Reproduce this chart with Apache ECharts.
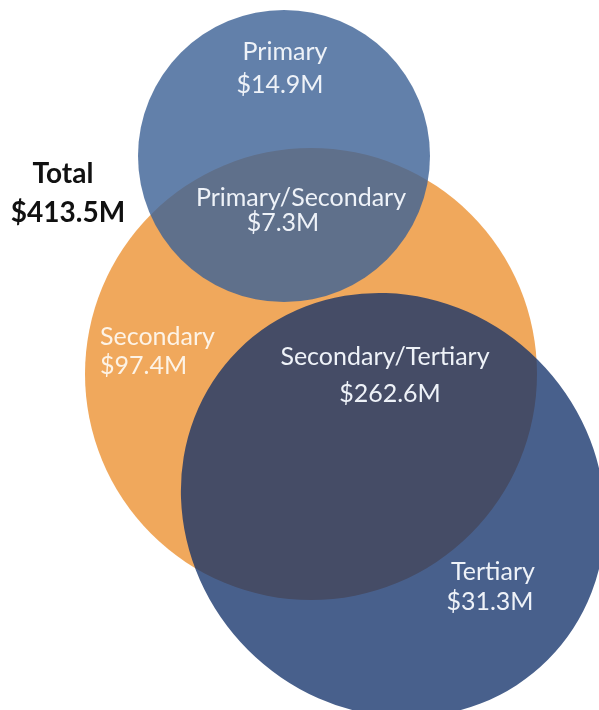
<!DOCTYPE html>
<html>
<head>
<meta charset="utf-8">
<script src="https://cdn.jsdelivr.net/npm/echarts@6/dist/echarts.min.js"></script>
<style>
  html, body { margin: 0; padding: 0; background: #ffffff; }
  #chart { width: 599px; height: 710px; }
</style>
</head>
<body>
<div id="chart"></div>
<script>
// Funding by program level (Venn regions), $ millions
const regionNames = ['Primary', 'Primary/Secondary', 'Secondary', 'Secondary/Tertiary', 'Tertiary'];
const regionValues = [14.9, 7.3, 97.4, 262.6, 31.3];
const totalName = 'Total';
const totalValue = 413.5;

// Set shapes, drawn back to front, in plot units
const setNames = ['Secondary', 'Primary', 'Tertiary'];
const setShapes = [
  { cx: 311, cy: 374, rx: 226, ry: 226, tilt: 0 },
  { cx: 284, cy: 156, rx: 146, ry: 146, tilt: 0 },
  { cx: 393, cy: 505, rx: 219, ry: 205, tilt: -Math.PI / 4 }
];
const setColors = ['rgb(240,168,92)', 'rgba(61,98,150,0.81)', 'rgba(17,48,106,0.77)'];

// Label anchors per region: [line 1, line 2] as {x, y, align}
const labelAnchors = [
  [{ x: 285, y: 52, align: 'center' }, { x: 280, y: 85, align: 'center' }],
  [{ x: 301, y: 198, align: 'center' }, { x: 283, y: 223, align: 'center' }],
  [{ x: 100, y: 337, align: 'left' }, { x: 100, y: 366, align: 'left' }],
  [{ x: 385, y: 357, align: 'center' }, { x: 390, y: 394, align: 'center' }],
  [{ x: 493, y: 572, align: 'center' }, { x: 490, y: 602, align: 'center' }]
];
const totalAnchors = [{ x: 63, y: 174 }, { x: 68, y: 213 }];

const money = v => '$' + v.toFixed(1) + 'M';
const LABEL_FONT = '25px Lato, "Open Sans", sans-serif';
const TOTAL_FONT = 'bold 28px Lato, "Open Sans", sans-serif';

const chart = echarts.init(document.getElementById('chart'), null, { renderer: 'canvas' });

chart.setOption({
  animation: false,
  backgroundColor: '#ffffff',
  grid: { left: 0, right: 0, top: 0, bottom: 0 },
  xAxis: { type: 'value', min: 0, max: 599, show: false },
  yAxis: { type: 'value', min: 0, max: 710, inverse: true, show: false },
  series: [
    {
      name: 'sets',
      type: 'custom',
      coordinateSystem: 'cartesian2d',
      silent: true,
      data: setNames.map((n, i) => [setShapes[i].cx, setShapes[i].cy, i]),
      renderItem: function (params, api) {
        const i = api.value(2);
        const s = setShapes[i];
        const c = api.coord([s.cx, s.cy]);
        const sz = api.size([s.rx, s.ry]);
        return {
          type: 'circle',
          x: c[0],
          y: c[1],
          rotation: s.tilt,
          scaleX: sz[0] / sz[1],
          scaleY: 1,
          shape: { cx: 0, cy: 0, r: sz[1] },
          style: { fill: setColors[i] }
        };
      }
    },
    {
      name: 'labels',
      type: 'custom',
      coordinateSystem: 'cartesian2d',
      silent: true,
      z: 5,
      data: regionNames.map((n, i) => [labelAnchors[i][0].x, labelAnchors[i][0].y, i]),
      renderItem: function (params, api) {
        const i = api.value(2);
        const lines = [regionNames[i], money(regionValues[i])];
        const fill = i === 2 ? '#fdf3e6' : '#eef2f8';
        return {
          type: 'group',
          children: lines.map((t, k) => {
            const a = labelAnchors[i][k];
            const p = api.coord([a.x, a.y]);
            return {
              type: 'text',
              style: {
                text: t, x: p[0], y: p[1], fill: fill,
                font: LABEL_FONT, align: a.align, verticalAlign: 'middle'
              }
            };
          })
        };
      }
    },
    {
      name: 'total',
      type: 'custom',
      coordinateSystem: 'cartesian2d',
      silent: true,
      z: 5,
      data: [[totalAnchors[0].x, totalAnchors[0].y, totalValue]],
      renderItem: function (params, api) {
        const lines = [totalName, money(api.value(2))];
        return {
          type: 'group',
          children: lines.map((t, k) => {
            const p = api.coord([totalAnchors[k].x, totalAnchors[k].y]);
            return {
              type: 'text',
              style: {
                text: t, x: p[0], y: p[1], fill: '#111111',
                font: TOTAL_FONT, align: 'center', verticalAlign: 'middle'
              }
            };
          })
        };
      }
    }
  ]
});
</script>
</body>
</html>
